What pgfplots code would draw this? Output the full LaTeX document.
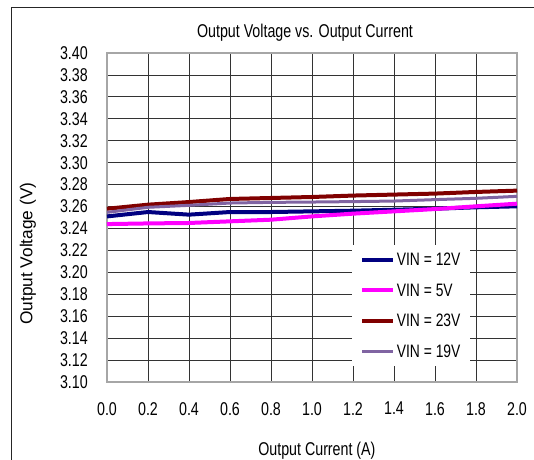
\documentclass[border=0pt]{standalone}
\usepackage{fontspec}
\setmainfont{Liberation Sans}[FakeStretch=0.77]
\newfontfamily\plainsans{Liberation Sans}
\usepackage{pgfplots}
\pgfplotsset{compat=1.18}
\usetikzlibrary{calc}

\definecolor{cNavy}{HTML}{000080}
\definecolor{cMag}{HTML}{FF00FF}
\definecolor{cRed}{HTML}{800000}
\definecolor{cPurp}{HTML}{8064A2}

\newcommand{\bigfont}{\fontsize{18.5pt}{22pt}\selectfont}

\begin{document}
\begin{tikzpicture}
\begin{axis}[
    name=ax,
    scale only axis,
    width=410pt, height=329pt,
    xmin=0, xmax=2, ymin=3.10, ymax=3.40,
    xtick distance=0.2, ytick distance=0.02,
    major tick length=0pt,
    grid=major,
    major grid style={draw=black!80, line width=0.8pt},
    axis line style={draw=gray!70, line width=1.4pt},
    /pgf/number format/assume math mode=true,
    xticklabel style={/pgf/number format/fixed, /pgf/number format/fixed zerofill, /pgf/number format/precision=1,
        font=\bigfont, anchor=north, inner sep=0pt, yshift=-20pt},
    yticklabel style={/pgf/number format/fixed, /pgf/number format/fixed zerofill, /pgf/number format/precision=2,
        font=\bigfont, anchor=east, inner sep=0pt, xshift=-19pt},
    xlabel={Output Current (A)},
    xlabel style={font=\bigfont, at={(axis description cs:0.512,-0.209)}, anchor=center, inner sep=0pt},
    ylabel={Output Voltage (V)},
    ylabel style={font=\fontsize{17.3pt}{20pt}\plainsans, at={(axis description cs:-0.193,0.39)}, anchor=center, rotate=0, inner sep=0pt},
    legend style={
        at={(0.598,0.416)}, anchor=north west,
        draw=none, fill=white,
        font=\fontsize{18pt}{21pt}\selectfont,
        row sep=13.5pt, inner xsep=8pt, inner ysep=6pt,
        nodes={inner sep=1.5pt, text height=13pt, text depth=1pt}
    },
    legend cell align=left,
    legend image code/.code={\draw[#1] (0pt,0pt) -- (31pt,0pt);},
]
\addplot[cNavy, line width=4pt] coordinates {
  (0.0,3.2510) (0.2,3.2550) (0.4,3.2526) (0.6,3.2550) (0.8,3.2550) (1.0,3.2556)
  (1.2,3.2562) (1.4,3.2571) (1.6,3.2580) (1.8,3.2593) (2.0,3.2602)
};
\addplot[cMag, line width=4pt] coordinates {
  (0.0,3.2440) (0.2,3.2446) (0.4,3.2450) (0.6,3.2465) (0.8,3.2480) (1.0,3.2510)
  (1.2,3.2535) (1.4,3.2556) (1.6,3.2577) (1.8,3.2602) (2.0,3.2626)
};
\addplot[cRed, line width=4pt] coordinates {
  (0.0,3.2580) (0.2,3.2617) (0.4,3.2641) (0.6,3.2669) (0.8,3.2678) (1.0,3.2687)
  (1.2,3.2700) (1.4,3.2709) (1.6,3.2718) (1.8,3.2733) (2.0,3.2745)
};
\addplot[cPurp, line width=3pt] coordinates {
  (0.0,3.2547) (0.2,3.2593) (0.4,3.2611) (0.6,3.2632) (0.8,3.2638) (1.0,3.2641)
  (1.2,3.2645) (1.4,3.2650) (1.6,3.2663) (1.8,3.2675) (2.0,3.2693)
};
\legend{VIN = 12V, VIN = 5V, VIN = 23V, VIN = 19V}
\end{axis}
\node[font=\bigfont, inner sep=0pt, anchor=center] at ($(ax.north west)+(198pt,20pt)$) {Output Voltage vs. Output Current};
\path[use as bounding box] ($(ax.south west)+(-107pt,-75pt)$) rectangle ($(ax.north east)+(17pt,53pt)$);
\draw[black!85, line width=1pt] ($(ax.south west)+(-95pt,-80pt)$) |- ($(ax.north east)+(20pt,45pt)$);
\end{tikzpicture}
\end{document}
